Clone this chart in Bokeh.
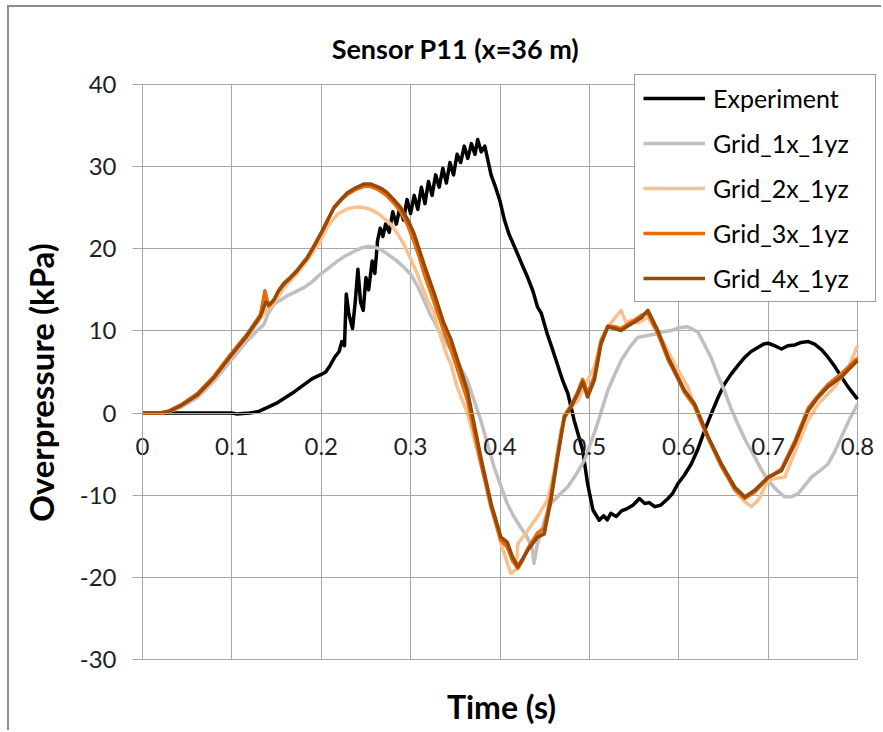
import math
from bokeh.plotting import figure
from bokeh.models import Legend, LegendItem, FixedTicker, Label, Range1d, Grid
from bokeh.embed import file_html
from bokeh.resources import INLINE

# ---------------- data ----------------
x_ticks = [0, 0.1, 0.2, 0.3, 0.4, 0.5, 0.6, 0.7, 0.8]
x_tick_labels = ["0", "0.1", "0.2", "0.3", "0.4", "0.5", "0.6", "0.7", "0.8"]
y_ticks = [-30, -20, -10, 0, 10, 20, 30, 40]
y_tick_labels = ["-30", "-20", "-10", "0", "10", "20", "30", "40"]

title_text = "Sensor P11 (x=36 m)"
x_title = "Time (s)"
y_title = "Overpressure (kPa)"

series_names = ["Experiment", "Grid_1x_1yz", "Grid_2x_1yz", "Grid_3x_1yz", "Grid_4x_1yz"]

exp_t = [0, 0.05, 0.1, 0.105, 0.12, 0.13, 0.14, 0.15, 0.16, 0.17, 0.18, 0.19, 0.2, 0.205, 0.21,
         0.215, 0.22, 0.223, 0.226, 0.228, 0.231, 0.235, 0.238, 0.241, 0.244, 0.247, 0.25, 0.253,
         0.257, 0.26, 0.263, 0.266, 0.269, 0.272, 0.276, 0.28, 0.284, 0.288, 0.292, 0.296, 0.3,
         0.304, 0.308, 0.312, 0.316, 0.32, 0.324, 0.328, 0.332, 0.336, 0.34, 0.344, 0.348, 0.352,
         0.356, 0.36, 0.364, 0.368, 0.372, 0.375, 0.379, 0.383, 0.386, 0.39, 0.395, 0.4, 0.405,
         0.41, 0.418, 0.425, 0.431, 0.437, 0.442, 0.446, 0.453, 0.458, 0.464, 0.47, 0.476, 0.483,
         0.4925, 0.498, 0.504, 0.511, 0.516, 0.52, 0.524, 0.53, 0.536, 0.543, 0.549, 0.556, 0.562,
         0.567, 0.573, 0.58, 0.588, 0.593, 0.599, 0.606, 0.614, 0.621, 0.629, 0.636, 0.644, 0.651,
         0.659, 0.667, 0.674, 0.681, 0.689, 0.695, 0.70, 0.707, 0.715, 0.722, 0.73, 0.737, 0.745,
         0.752, 0.76, 0.767, 0.775, 0.782, 0.79, 0.80]
exp_v = [0, 0, 0, -0.1, 0, 0.2, 0.7, 1.2, 1.9, 2.6, 3.4, 4.2, 4.7, 5.0, 5.8,
         6.8, 7.5, 8.7, 8.2, 14.5, 12.0, 10.3, 13.5, 17.5, 13.5, 12.5, 16.5, 15.0,
         18.5, 17.0, 21.0, 22.5, 21.5, 23.0, 22.0, 24.5, 23.0, 25.0, 23.5, 26.0, 24.3,
         26.5, 24.8, 27.5, 25.5, 28.2, 26.5, 29.0, 27.5, 29.8, 28.0, 30.5, 29.0, 31.5,
         30.5, 32.5, 31.0, 32.8, 31.5, 33.3, 31.8, 32.5, 31.0, 29.0, 27.5, 25.8, 23.5,
         21.8, 19.8, 18.0, 16.5, 14.8, 12.9, 12.2, 9.6, 8.0, 6.0, 4.0, 2.35, -0.9,
         -4.5, -8.6, -11.8, -13.05, -12.5, -13.0, -12.2, -12.6, -11.9, -11.6, -11.2, -10.4, -11.0,
         -10.9, -11.4, -11.2, -10.4, -9.8, -8.6, -7.6, -6.2, -4.5, -2.1, -0.2, 1.9, 3.5,
         4.8, 5.9, 6.8, 7.5, 8.0, 8.4, 8.5, 8.2, 7.8, 8.2, 8.3, 8.6, 8.7,
         8.4, 7.7, 6.8, 5.6, 4.4, 3.1, 1.7]

g1_t = [0, 0.02, 0.03, 0.043, 0.0615, 0.08, 0.099, 0.117, 0.13, 0.136, 0.14, 0.147, 0.155, 0.162,
        0.17, 0.181, 0.19, 0.199, 0.21, 0.218, 0.228, 0.237, 0.245, 0.252, 0.26, 0.2665, 0.275,
        0.285, 0.293, 0.30, 0.308, 0.315, 0.322, 0.33, 0.34, 0.349, 0.356, 0.3635, 0.3785, 0.3935,
        0.408, 0.415, 0.423, 0.43, 0.436, 0.438, 0.442, 0.45, 0.457, 0.466, 0.4757, 0.485, 0.4944,
        0.502, 0.509, 0.5206, 0.528, 0.5355, 0.545, 0.554, 0.563, 0.573, 0.582, 0.5916, 0.60, 0.61,
        0.6215, 0.628, 0.636, 0.643, 0.651, 0.658, 0.666, 0.675, 0.685, 0.692, 0.70, 0.709, 0.7187,
        0.726, 0.7336, 0.741, 0.7486, 0.758, 0.767, 0.775, 0.782, 0.79, 0.80]
g1_v = [0, 0, 0.2, 0.7, 1.9, 3.9, 6.4, 8.8, 10.2, 10.8, 12.0, 13.25, 13.8, 14.3,
        14.7, 15.3, 16.0, 16.9, 17.8, 18.5, 19.2, 19.7, 20.1, 20.3, 20.2, 19.9, 19.3,
        18.5, 17.7, 16.9, 15.4, 13.7, 12.0, 10.4, 8.5, 7.0, 5.5, 4.0, -0.9, -6.6,
        -11.0, -12.5, -13.9, -15.0, -16.5, -18.3, -15.9, -13.0, -11.0, -10.0, -9.0, -7.5, -5.75,
        -3.5, -1.3, 2.75, 4.6, 6.4, 8.0, 9.2, 9.4, 9.6, 9.9, 10.05, 10.4, 10.5,
        9.85, 8.5, 6.8, 4.8, 2.75, 0.7, -1.3, -3.4, -5.35, -6.8, -8.2, -9.3, -10.2,
        -10.2, -9.8, -8.8, -7.8, -7.0, -6.2, -4.6, -2.9, -1.0, 1.1]

g2_t = [0, 0.02, 0.03, 0.043, 0.0615, 0.08, 0.099, 0.117, 0.132, 0.138, 0.147, 0.158, 0.173,
        0.1845, 0.1995, 0.207, 0.218, 0.23, 0.2405, 0.248, 0.255, 0.265, 0.2777, 0.285, 0.2926,
        0.3, 0.3075, 0.319, 0.326, 0.33, 0.341, 0.345, 0.352, 0.3635, 0.3785, 0.39, 0.401, 0.412,
        0.418, 0.42, 0.431, 0.442, 0.453, 0.461, 0.468, 0.4757, 0.487, 0.498, 0.5056, 0.513,
        0.5206, 0.528, 0.5355, 0.541, 0.5467, 0.555, 0.5654, 0.572, 0.58, 0.5953, 0.61, 0.625,
        0.644, 0.6626, 0.672, 0.681, 0.689, 0.70, 0.71, 0.7187, 0.727, 0.737, 0.745, 0.756,
        0.7747, 0.79, 0.80]
g2_v = [0, 0, 0.2, 0.8, 2.1, 4.1, 6.8, 9.2, 11.5, 12.4, 13.4, 15.2, 17.0,
        18.6, 21.0, 22.7, 24.2, 24.9, 25.1, 25.0, 24.8, 24.2, 23.0, 21.9, 20.5,
        18.8, 16.9, 13.7, 12.3, 10.5, 6.9, 6.0, 3.2, 0.0, -6.2, -11.0, -15.9, -19.5,
        -19.1, -15.9, -14.3, -12.6, -10.6, -7.0, -2.1, 0.3, 1.5, 4.0, 5.6, 8.8,
        10.5, 11.5, 12.5, 11.0, 11.3, 11.0, 11.7, 10.5, 9.2, 6.0, 3.2, -1.3,
        -5.35, -9.4, -10.6, -11.4, -10.6, -8.2, -7.9, -7.8, -5.5, -2.9, -0.8, 1.1,
        3.2, 5.6, 8.2]

g3_t = [0, 0.02, 0.03, 0.043, 0.0615, 0.08, 0.099, 0.117, 0.132, 0.137, 0.141, 0.147, 0.152,
        0.158, 0.165, 0.173, 0.1845, 0.192, 0.1995, 0.207, 0.214, 0.222, 0.229, 0.238, 0.248,
        0.255, 0.262, 0.268, 0.274, 0.281, 0.289, 0.297, 0.304, 0.31, 0.315, 0.326, 0.337, 0.345,
        0.3635, 0.3785, 0.39, 0.401, 0.408, 0.414, 0.42, 0.425, 0.431, 0.442, 0.4495, 0.457,
        0.4645, 0.472, 0.4794, 0.487, 0.4925, 0.498, 0.5056, 0.513, 0.5206, 0.528, 0.5355, 0.543,
        0.5505, 0.558, 0.5654, 0.5766, 0.588, 0.597, 0.6065, 0.6178, 0.633, 0.6477, 0.6626,
        0.6738, 0.685, 0.70, 0.715, 0.7299, 0.7449, 0.755, 0.767, 0.782, 0.80]
g3_v = [0, 0, 0.3, 1.0, 2.4, 4.5, 7.2, 9.6, 12.0, 14.9, 13.0, 13.7, 14.9,
        15.8, 16.5, 17.4, 19.0, 20.4, 21.9, 23.5, 24.9, 25.9, 26.6, 27.2, 27.6,
        27.6, 27.3, 26.9, 26.4, 25.6, 24.5, 22.8, 20.8, 18.9, 17.0, 13.6, 10.0, 7.8,
        1.6, -6.0, -11.5, -15.5, -16.3, -18.0, -18.9, -18.0, -16.5, -14.6, -14.0, -10.0,
        -5.0, -0.3, 0.9, 2.6, 4.1, 2.4, 4.5, 8.8, 10.6, 10.5, 10.3, 10.8,
        11.3, 11.9, 12.2, 9.7, 6.5, 4.6, 2.5, 0.8, -3.1, -6.5, -9.3,
        -10.4, -9.6, -7.9, -6.8, -3.4, 0.6, 2.0, 3.5, 4.8, 6.7]

g4_t = [0, 0.02, 0.03, 0.043, 0.0615, 0.08, 0.099, 0.117, 0.132, 0.138, 0.142, 0.147, 0.152,
        0.158, 0.165, 0.173, 0.1845, 0.192, 0.1995, 0.207, 0.214, 0.222, 0.229, 0.238, 0.248,
        0.255, 0.262, 0.268, 0.274, 0.281, 0.289, 0.297, 0.304, 0.31, 0.315, 0.326, 0.337, 0.345,
        0.3635, 0.3785, 0.39, 0.401, 0.408, 0.414, 0.42, 0.425, 0.431, 0.442, 0.4495, 0.457,
        0.4645, 0.472, 0.4794, 0.487, 0.4925, 0.498, 0.5056, 0.513, 0.5206, 0.528, 0.5355, 0.543,
        0.5505, 0.558, 0.5654, 0.5766, 0.588, 0.597, 0.6065, 0.6178, 0.633, 0.6477, 0.6626,
        0.6738, 0.685, 0.70, 0.715, 0.7299, 0.7449, 0.755, 0.767, 0.782, 0.80]
g4_v = [0, 0, 0.2, 0.9, 2.2, 4.3, 7.0, 9.4, 11.8, 13.5, 13.2, 13.8, 14.8,
        15.7, 16.4, 17.3, 18.9, 20.3, 21.8, 23.4, 25.0, 26.0, 26.8, 27.4, 27.9,
        27.9, 27.6, 27.3, 26.8, 26.0, 25.0, 23.5, 21.8, 19.8, 18.1, 14.7, 11.0, 9.0,
        2.75, -5.35, -11.0, -15.1, -15.7, -17.5, -18.7, -17.8, -16.7, -15.1, -14.7, -10.6,
        -5.35, -0.5, 0.7, 2.35, 3.8, 1.95, 4.0, 8.4, 10.5, 10.3, 10.05, 10.6,
        11.1, 11.6, 12.5, 10.05, 6.8, 4.8, 2.75, 1.1, -2.9, -6.2, -9.0,
        -10.2, -9.4, -7.8, -7.0, -3.7, 0.3, 1.8, 3.2, 4.4, 6.4]

series_t = [exp_t, g1_t, g2_t, g3_t, g4_t]
series_v = [exp_v, g1_v, g2_v, g3_v, g4_v]
series_colors = ["#000000", "#BFBFBF", "#FAC090", "#E46C0A", "#984807"]

# ---------------- layout geometry (pixels) ----------------
FONT = "Lato"
GRID = "#A6A6A6"
W, H = 874, 725              # canvas size (page offset 9,7 by css margin + border)
OFF_X, OFF_Y = 9, 7
PX_X0, PX_X1 = 142, 857      # page pixels of x = 0 and x = 0.8
PX_Y0, PX_Y1 = 84, 659       # page pixels of y = 40 and y = -30
XMIN, XMAX = x_ticks[0], x_ticks[-1]
YMIN, YMAX = y_ticks[0], y_ticks[-1]
sx = (PX_X1 - PX_X0) / (XMAX - XMIN)
sy = (PX_Y1 - PX_Y0) / (YMAX - YMIN)
x_lo = XMIN - (PX_X0 - OFF_X) / sx
x_hi = XMAX + (OFF_X + W - PX_X1) / sx
y_hi = YMAX + (PX_Y0 - OFF_Y) / sy
y_lo = YMIN - (OFF_Y + H - PX_Y1) / sy

def dx(px):
    return XMIN + (px - PX_X0) / sx

def dy(py):
    return YMAX - (py - PX_Y0) / sy

p = figure(width=W, height=H, x_range=Range1d(x_lo, x_hi), y_range=Range1d(y_lo, y_hi),
           output_backend="svg", toolbar_location=None, title=None,
           min_border_left=0, min_border_right=0, min_border_top=0, min_border_bottom=0,
           styles={"margin-left": "7px", "margin-top": "5px",
                   "border-left": "2px solid #8C8C8C", "border-top": "2px solid #8C8C8C"})
p.background_fill_color = "white"
p.border_fill_color = "white"
p.outline_line_color = None

# grids limited to the plot area
p.xgrid.ticker = FixedTicker(ticks=x_ticks)
p.ygrid.ticker = FixedTicker(ticks=y_ticks)
p.grid.grid_line_color = GRID
p.grid.grid_line_width = 1
if "cross_bounds" in Grid.properties():
    p.xgrid.cross_bounds = (YMIN, YMAX)
    p.ygrid.cross_bounds = (XMIN, XMAX)
else:
    p.grid.visible = False
    p.segment(x0=x_ticks, y0=[YMIN] * len(x_ticks), x1=x_ticks, y1=[YMAX] * len(x_ticks),
              line_color=GRID, line_width=1)
    p.segment(x0=[XMIN] * len(y_ticks), y0=y_ticks, x1=[XMAX] * len(y_ticks), y1=y_ticks,
              line_color=GRID, line_width=1)

# y axis at x = 0
p.yaxis.fixed_location = XMIN
p.yaxis.bounds = (YMIN, YMAX)
p.yaxis.ticker = FixedTicker(ticks=y_ticks)
p.yaxis.major_label_overrides = {t: l for t, l in zip(y_ticks, y_tick_labels)}
p.yaxis.major_tick_out = 10
p.yaxis.major_tick_in = 0
p.yaxis.minor_tick_line_color = None
p.yaxis.axis_line_color = GRID
p.yaxis.major_tick_line_color = GRID
p.yaxis.major_label_text_font = FONT
p.yaxis.major_label_text_font_size = "24px"
p.yaxis.major_label_text_color = "#1F1F1F"
p.yaxis.major_label_standoff = 16

# x axis crossing at y = 0
p.xaxis.fixed_location = 0
p.xaxis.bounds = (XMIN, XMAX)
p.xaxis.ticker = FixedTicker(ticks=x_ticks)
p.xaxis.major_label_overrides = {t: l for t, l in zip(x_ticks, x_tick_labels)}
p.xaxis.major_tick_out = 0
p.xaxis.major_tick_in = 0
p.xaxis.minor_tick_line_color = None
p.xaxis.axis_line_color = GRID
p.xaxis.major_label_text_font = FONT
p.xaxis.major_label_text_font_size = "24px"
p.xaxis.major_label_text_color = "#1F1F1F"
p.xaxis.major_label_standoff = 25

# titles
p.add_layout(Label(x=dx(455), y=dy(48), text=title_text, text_align="center",
                   text_baseline="middle", text_font=FONT, text_font_size="27px",
                   text_font_style="bold", text_color="#000000"))
p.add_layout(Label(x=dx(501), y=dy(706), text=x_title, text_align="center",
                   text_baseline="middle", text_font=FONT, text_font_size="32px",
                   text_font_style="bold", text_color="#000000"))
p.add_layout(Label(x=dx(40), y=dy(382), text=y_title, angle=math.pi / 2,
                   text_align="center", text_baseline="middle", text_font=FONT,
                   text_font_size="33px", text_font_style="bold", text_color="#000000"))

items = []
for name, ts, vs, col in zip(series_names, series_t, series_v, series_colors):
    r = p.line(ts, vs, line_color=col, line_width=3.5, line_join="round")
    items.append(LegendItem(label=name, renderers=[r]))

legend = Legend(items=items, location=(634 - OFF_X, OFF_Y + H - 302), orientation="vertical",
                padding=8, spacing=15, margin=0,
                label_height=30, glyph_height=30, glyph_width=62, label_standoff=8, label_width=154,
                label_text_font=FONT, label_text_font_size="25px", label_text_color="#000000",
                border_line_color="#3F3F3F", border_line_width=1,
                background_fill_color="white", background_fill_alpha=1.0)
p.add_layout(legend, "center")

open("out.html", "w").write(file_html(p, INLINE))
